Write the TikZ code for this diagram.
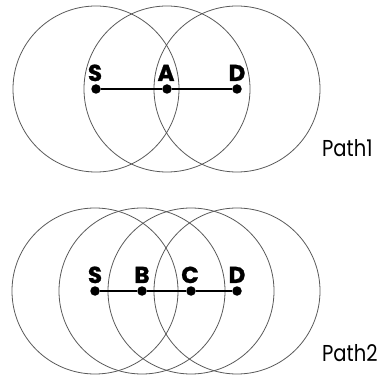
\documentclass[tikz,border=0pt]{standalone}
\usepackage{fontspec}
\setmainfont{Poppins}
\newfontfamily\lblfont{Poppins}[BoldFeatures={FakeBold=1.2}]
\tikzset{
  dotnode/.style={circle,fill=black,inner sep=0pt,minimum size=9.5pt},
  lbl/.style={font=\lblfont\bfseries\fontsize{23}{23}\selectfont,inner sep=0pt,anchor=base},
  pathlbl/.style={font=\fontsize{23}{23}\selectfont,inner sep=0pt,text depth=0pt,anchor=base west,xscale=0.85,transform shape},
  ring/.style={draw=black!65,line width=0.8pt},
  link/.style={draw=black,line width=1.4pt}
}
\begin{document}
\begin{tikzpicture}[x=1pt,y=-1pt]
\useasboundingbox (0,0) rectangle (378,377);
% top
\node[dotnode] (s1) at (96,89) {};
\node[dotnode] (a1) at (167,89) {};
\node[dotnode] (d1) at (237,89) {};
\draw[ring] (s1) circle (83);
\draw[ring] (a1) circle (83);
\draw[ring] (d1) circle (83);
\draw[link] (s1) -- (a1) -- (d1);
\node[lbl] (ls1) at (95,81) {S};
\node[lbl] (la1) at (166,81) {A};
\node[lbl] (ld1) at (237,81) {D};
\node[pathlbl] (p1) at (322,156.5) {Path1};
% bottom
\node[dotnode] (s2) at (95,291) {};
\node[dotnode] (b2) at (142,291) {};
\node[dotnode] (c2) at (191,291) {};
\node[dotnode] (d2) at (237,291) {};
\draw[ring] (s2) circle (83);
\draw[ring] (b2) circle (83);
\draw[ring] (c2) circle (83);
\draw[ring] (d2) circle (83);
\draw[link] (s2) -- (b2) -- (c2) -- (d2);
\node[lbl] (ls2) at (95,283) {S};
\node[lbl] (lb2) at (142,283) {B};
\node[lbl] (lc2) at (190,283) {C};
\node[lbl] (ld2) at (237,283) {D};
\node[pathlbl] (p2) at (322,361) {Path2};
\end{tikzpicture}
\end{document}
